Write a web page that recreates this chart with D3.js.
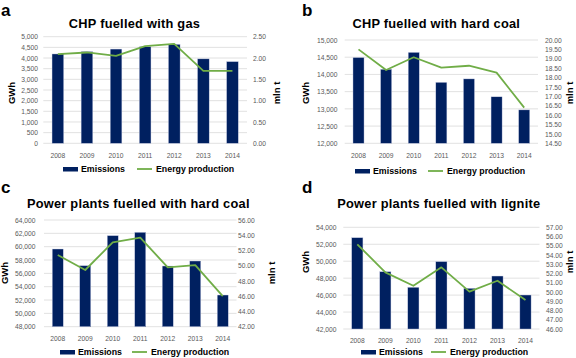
<!DOCTYPE html>
<html>
<head>
<meta charset="utf-8">
<script src="https://cdn.jsdelivr.net/npm/d3@7"></script>
<style>
  body { margin: 0; background: #fff; }
  svg { display: block; font-family: "Liberation Sans", Arial, sans-serif; }
</style>
</head>
<body>
<div id="chart"></div>
<script>
// data
var years = ["2008", "2009", "2010", "2011", "2012", "2013", "2014"];

var gasEmissions = [4190, 4300, 4420, 4530, 4640, 3960, 3830];
var gasEnergy = [2.09, 2.13, 2.05, 2.28, 2.33, 1.70, 1.70];
var gasLeftTicks = [0, 500, 1000, 1500, 2000, 2500, 3000, 3500, 4000, 4500, 5000];
var gasRightTicks = [0, 0.5, 1, 1.5, 2, 2.5];

var chpCoalEmissions = [14490, 14150, 14640, 13770, 13870, 13350, 12970];
var chpCoalEnergy = [19.5, 18.4, 19.08, 18.53, 18.63, 18.26, 16.4];
var chpCoalLeftTicks = [12000, 12500, 13000, 13500, 14000, 14500, 15000];
var chpCoalRightTicks = [14.5, 15, 15.5, 16, 16.5, 17, 17.5, 18, 18.5, 19, 19.5, 20];

var ppCoalEmissions = [59650, 57150, 61650, 62150, 57100, 57850, 52750];
var ppCoalEnergy = [51.4, 49.44, 53.07, 53.68, 49.79, 50.09, 46.0];
var ppCoalLeftTicks = [48000, 50000, 52000, 54000, 56000, 58000, 60000, 62000, 64000];
var ppCoalRightTicks = [42, 44, 46, 48, 50, 52, 54, 56];

var ligniteEmissions = [52770, 48760, 46920, 49950, 46800, 48250, 46010];
var ligniteEnergy = [55.16, 52.13, 50.68, 52.67, 50.04, 51.22, 49.14];
var ligniteLeftTicks = [42000, 44000, 46000, 48000, 50000, 52000, 54000];
var ligniteRightTicks = [46, 47, 48, 49, 50, 51, 52, 53, 54, 55, 56, 57];

var barColor = "#002060";
var lineColor = "#70ad47";
var tickColor = "#595959";

var svg = d3.select("#chart").append("svg")
    .attr("width", 576)
    .attr("height", 358);

// one panel = bars on left axis + line on right axis
function panel(p) {
  var g = svg.append("g");

  var x = d3.scaleBand()
      .domain(years)
      .range([p.x0, p.x1])
      .paddingInner(0.6)
      .paddingOuter(0.3);
  var yL = d3.scaleLinear()
      .domain([p.leftTicks[0], p.leftTicks[p.leftTicks.length - 1]])
      .range([p.y1, p.y0]);
  var yR = d3.scaleLinear()
      .domain([p.rightTicks[0], p.rightTicks[p.rightTicks.length - 1]])
      .range([p.y1, p.y0]);

  // gridlines
  g.append("g")
    .selectAll("line")
    .data(p.leftTicks)
    .enter().append("line")
      .attr("x1", p.x0).attr("x2", p.x1)
      .attr("y1", d => yL(d)).attr("y2", d => yL(d))
      .attr("stroke", "#d9d9d9")
      .attr("stroke-width", 0.8);

  // left axis
  var la = g.append("g")
      .attr("transform", "translate(" + p.x0 + ",0)")
      .call(d3.axisLeft(yL).tickValues(p.leftTicks).tickSize(0).tickPadding(p.x0 - p.leftEdge)
        .tickFormat(d3.format(",")));
  // right axis
  var ra = g.append("g")
      .attr("transform", "translate(" + p.x1 + ",0)")
      .call(d3.axisRight(yR).tickValues(p.rightTicks).tickSize(0).tickPadding(p.rightEdge - p.x1)
        .tickFormat(d3.format(".2f")));
  // years
  var xa = g.append("g")
      .attr("transform", "translate(0," + p.y1 + ")")
      .call(d3.axisBottom(x).tickSize(0).tickPadding(p.yearPad));

  [la, ra, xa].forEach(function(a) {
    a.select(".domain").remove();
    a.selectAll("text")
      .attr("fill", tickColor)
      .style("font-size", "6.7px")
      .style("font-family", "'Liberation Sans', Arial, sans-serif");
  });

  // bars
  g.append("g")
    .selectAll("rect")
    .data(p.bars)
    .enter().append("rect")
      .attr("x", (d, i) => x(years[i]))
      .attr("y", d => yL(d))
      .attr("width", x.bandwidth())
      .attr("height", d => p.y1 - yL(d))
      .attr("fill", barColor)
      .attr("stroke", "#c9cde6")
      .attr("stroke-width", 0.4);

  // line
  var line = d3.line()
      .x((d, i) => x(years[i]) + x.bandwidth() / 2)
      .y(d => yR(d));
  g.append("path")
    .datum(p.line)
    .attr("d", line)
    .attr("fill", "none")
    .attr("stroke", lineColor)
    .attr("stroke-width", 1.8)
    .attr("stroke-linejoin", "round");

  // title + panel letter
  g.append("text")
    .attr("x", p.titleX).attr("y", p.titleY)
    .attr("text-anchor", "middle")
    .style("font-size", "12.8px")
    .style("font-weight", "bold")
    .style("letter-spacing", "0.25px")
    .text(p.title);
  g.append("text")
    .attr("x", p.letterX).attr("y", p.letterY)
    .style("font-size", "17px")
    .style("font-weight", "bold")
    .text(p.letter);

  // axis titles
  g.append("text")
    .attr("transform", "translate(" + p.gwhX + "," + p.axTitleY + ") rotate(-90)")
    .attr("text-anchor", "middle")
    .style("font-size", "9.5px")
    .style("font-weight", "bold")
    .text("GWh");
  g.append("text")
    .attr("transform", "translate(" + p.mlnX + "," + p.axTitleY + ") rotate(-90)")
    .attr("text-anchor", "middle")
    .style("font-size", "9.5px")
    .style("font-weight", "bold")
    .text("mln t");

  // legend
  var lg = g.append("g").attr("transform", "translate(" + p.legX + "," + p.legY + ")");
  lg.append("rect")
    .attr("x", 0).attr("y", -2).attr("width", 15).attr("height", 4.5)
    .attr("fill", barColor);
  lg.append("text")
    .attr("x", 18).attr("y", 3.3)
    .style("font-size", "8.8px").style("font-weight", "bold")
    .text("Emissions");
  lg.append("line")
    .attr("x1", p.legGap).attr("x2", p.legGap + 15)
    .attr("y1", 0).attr("y2", 0)
    .attr("stroke", lineColor).attr("stroke-width", 1.8);
  lg.append("text")
    .attr("x", p.legGap + 19).attr("y", 3.3)
    .style("font-size", "8.8px").style("font-weight", "bold")
    .text("Energy production");
}

panel({
  letter: "a", letterX: 1, letterY: 16,
  title: "CHP fuelled with gas", titleX: 134.5, titleY: 27.5,
  bars: gasEmissions, line: gasEnergy,
  leftTicks: gasLeftTicks, rightTicks: gasRightTicks,
  x0: 43.3, x1: 247, y0: 36.7, y1: 143.3,
  leftEdge: 38, rightEdge: 253, yearPad: 10,
  gwhX: 15, mlnX: 280, axTitleY: 93,
  legX: 63, legY: 169, legGap: 74
});

panel({
  letter: "b", letterX: 302, letterY: 16,
  title: "CHP fuelled with hard coal", titleX: 436.3, titleY: 27.5,
  bars: chpCoalEmissions, line: chpCoalEnergy,
  leftTicks: chpCoalLeftTicks, rightTicks: chpCoalRightTicks,
  x0: 344.7, x1: 538, y0: 40, y1: 143.3,
  leftEdge: 337.5, rightEdge: 545, yearPad: 9.5,
  gwhX: 309, mlnX: 573, axTitleY: 93,
  legX: 355, legY: 171, legGap: 73
});

panel({
  letter: "c", letterX: 1, letterY: 193,
  title: "Power plants fuelled with hard coal", titleX: 138.3, titleY: 207.5,
  bars: ppCoalEmissions, line: ppCoalEnergy,
  leftTicks: ppCoalLeftTicks, rightTicks: ppCoalRightTicks,
  x0: 44, x1: 236.5, y0: 220, y1: 326.7,
  leftEdge: 35.5, rightEdge: 238, yearPad: 10,
  gwhX: 8, mlnX: 275, axTitleY: 273,
  legX: 60, legY: 352, legGap: 72
});

panel({
  letter: "d", letterX: 302, letterY: 193,
  title: "Power plants fuelled with lignite", titleX: 438.8, titleY: 207.5,
  bars: ligniteEmissions, line: ligniteEnergy,
  leftTicks: ligniteLeftTicks, rightTicks: ligniteRightTicks,
  x0: 343.3, x1: 539.5, y0: 227.3, y1: 329,
  leftEdge: 336.5, rightEdge: 546, yearPad: 9.5,
  gwhX: 309, mlnX: 573, axTitleY: 262,
  legX: 361, legY: 352, legGap: 70
});
</script>
</body>
</html>
